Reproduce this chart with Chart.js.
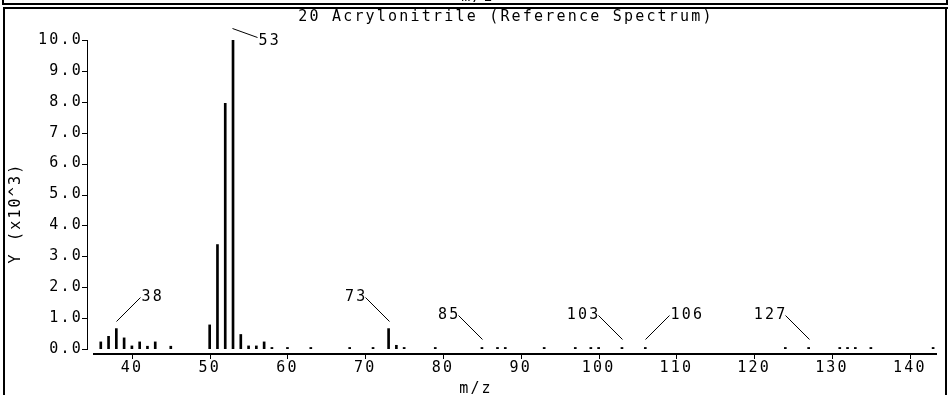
<!DOCTYPE html>
<html>
<head>
<meta charset="utf-8">
<script src="https://cdn.jsdelivr.net/npm/chart.js@4/dist/chart.umd.min.js"></script>
<style>
html, body { margin: 0; padding: 0; background: #fff; }
</style>
</head>
<body>
<canvas id="spectrum" width="950" height="395"></canvas>
<script>
'use strict';
var titleText = '20 Acrylonitrile (Reference Spectrum)';
var xTitle = 'm/z';
var yTitle = 'Y (x10^3)';

// m/z of every line, and its intensity (x10^3)
var massValues = [36, 37, 38, 39, 40, 41, 42, 43, 45, 50, 51, 52, 53, 54, 55, 56, 57, 58, 60, 63,
    68, 71, 73, 74, 75, 79, 85, 87, 88, 93, 97, 99, 100, 103, 106, 124, 127, 131, 132, 133, 135, 143];
var intensities = [0.23, 0.41, 0.66, 0.36, 0.10, 0.23, 0.09, 0.23, 0.09, 0.78, 3.38, 7.95, 10.0, 0.47, 0.10, 0.10, 0.23, 0.05, 0.05, 0.05,
    0.05, 0.05, 0.66, 0.12, 0.05, 0.05, 0.05, 0.05, 0.05, 0.05, 0.05, 0.05, 0.05, 0.05, 0.05, 0.05, 0.05, 0.05, 0.05, 0.05, 0.05, 0.05];
var labelledPeaks = [38, 53, 73, 85, 103, 106, 127];
var xTickValues = [40, 50, 60, 70, 80, 90, 100, 110, 120, 130, 140];
var yTickValues = [0, 1, 2, 3, 4, 5, 6, 7, 8, 9, 10];

var FONT_FAMILY = '"DejaVu Sans Mono", "Liberation Mono", monospace';
var FONT = '15px ' + FONT_FAMILY;
var SPACING = '2.2px';
var labelsOnLeft = [73, 85, 103, 127];

function setSpacing(chart) {
    chart.ctx.letterSpacing = SPACING;
}

var spectrumDecor = {
    id: 'spectrumDecor',
    beforeUpdate: setSpacing,
    beforeLayout: setSpacing,
    beforeDraw: setSpacing,
    afterDraw: function(chart) {
        var ctx = chart.ctx;
        var area = chart.chartArea;
        var xs = chart.scales.x;
        var ys = chart.scales.y;
        ctx.save();
        ctx.letterSpacing = SPACING;
        ctx.strokeStyle = '#000';
        ctx.fillStyle = '#000';
        ctx.lineWidth = 1;
        ctx.font = FONT;

        // frames
        ctx.fillRect(2, 0, 2, 5);
        ctx.fillRect(946, 0, 2, 5);
        ctx.fillRect(2, 3, 946, 2);
        ctx.fillRect(3, 7, 945, 2);
        ctx.fillRect(3, 7, 2, 390);
        ctx.fillRect(945, 7, 2, 390);

        // y axis, set off to the left
        var ax = Math.round(area.left) - 6;
        var y0 = Math.round(ys.getPixelForValue(0));
        ctx.fillRect(ax, Math.round(area.top), 1, y0 - Math.round(area.top) + 1);
        yTickValues.forEach(function(v) {
            var py = Math.round(ys.getPixelForValue(v));
            ctx.fillRect(ax - 5, py, 5, 1);
        });

        // x axis, set off below
        var ay = y0 + 4;
        ctx.fillRect(Math.round(area.left), ay, Math.round(area.right - area.left), 2);
        xTickValues.forEach(function(v) {
            var px = Math.round(xs.getPixelForValue(v));
            ctx.fillRect(px, ay + 2, 1, 4);
        });

        // peak labels with leader lines
        var maxI = Math.max.apply(null, intensities);
        ctx.textBaseline = 'middle';
        labelledPeaks.forEach(function(m) {
            var val = intensities[massValues.indexOf(m)];
            var px = Math.round(xs.getPixelForValue(m)) + 0.5;
            var top = Math.round(ys.getPixelForValue(val)) + 0.5;
            ctx.beginPath();
            if (val === maxI) {
                ctx.moveTo(px - 1, top - 12);
                ctx.lineTo(px + 24, top - 3);
                ctx.stroke();
                ctx.textAlign = 'left';
                ctx.fillText(String(m), px + 25, top + 1);
                return;
            }
            var yEnd = top - 32;
            if (labelsOnLeft.indexOf(m) >= 0) {
                ctx.moveTo(px, top - 8);
                ctx.lineTo(px - 24, yEnd);
                ctx.stroke();
                ctx.textAlign = 'right';
                ctx.fillText(String(m), px - 22, yEnd);
            } else {
                ctx.moveTo(px, top - 8);
                ctx.lineTo(px + 24, yEnd);
                ctx.stroke();
                ctx.textAlign = 'left';
                ctx.fillText(String(m), px + 25, yEnd);
            }
        });

        // titles
        ctx.textAlign = 'center';
        ctx.textBaseline = 'middle';
        ctx.fillText(titleText, 506, 17);
        ctx.fillText(xTitle, 476, 389);
        ctx.textBaseline = 'alphabetic';
        ctx.fillText(xTitle, 478, 1);
        ctx.translate(16, 213);
        ctx.rotate(-Math.PI / 2);
        ctx.textBaseline = 'middle';
        ctx.fillText(yTitle, 0, 0);
        ctx.restore();
    }
};

var points = massValues.map(function(m, i) {
    return { x: m, y: intensities[i] };
});

new Chart(document.getElementById('spectrum'), {
    type: 'bar',
    data: {
        datasets: [{
            data: points,
            backgroundColor: '#000',
            borderWidth: 0,
            barThickness: 2
        }]
    },
    options: {
        responsive: false,
        devicePixelRatio: 1,
        animation: false,
        layout: { padding: { top: 40, left: 4, right: 13, bottom: 0 } },
        plugins: { legend: { display: false }, tooltip: { enabled: false }, title: { display: false } },
        scales: {
            x: {
                type: 'linear',
                offset: false,
                min: 35,
                max: 143.5,
                afterBuildTicks: function(s) {
                    s.ticks = xTickValues.map(function(v) { return { value: v }; });
                },
                afterFit: function(s) { s.height = 46; },
                grid: { display: false, drawTicks: false },
                border: { display: false },
                ticks: {
                    color: '#000',
                    font: { family: FONT_FAMILY, size: 15 },
                    padding: 10,
                    maxRotation: 0,
                    autoSkip: false,
                    callback: function(v) { return String(v); }
                }
            },
            y: {
                min: 0,
                max: 10,
                afterBuildTicks: function(s) {
                    s.ticks = yTickValues.map(function(v) { return { value: v }; });
                },
                afterFit: function(s) { s.width = 89; },
                grid: { display: false, drawTicks: false },
                border: { display: false },
                ticks: {
                    color: '#000',
                    font: { family: FONT_FAMILY, size: 15 },
                    padding: 10,
                    callback: function(v) { return v.toFixed(1); }
                }
            }
        }
    },
    plugins: [spectrumDecor]
});
</script>
</body>
</html>
